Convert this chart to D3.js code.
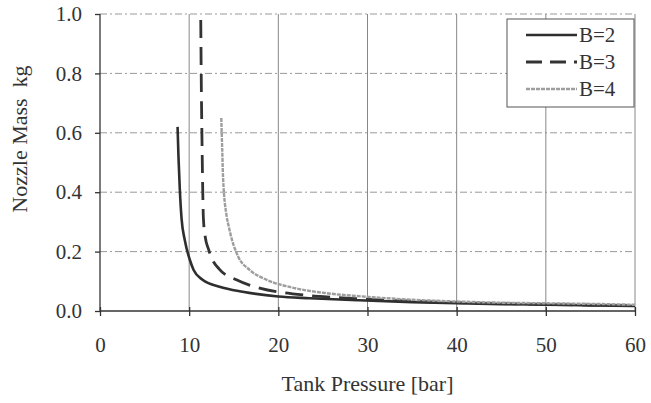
<!DOCTYPE html>
<html lang="en">
<head>
    <meta charset="UTF-8">
    <title>Nozzle Mass vs Tank Pressure</title>
    <script src="https://cdn.jsdelivr.net/npm/d3@7"></script>
    <style>
        body { margin: 0; background: #fff; }
        .axis path, .axis line { stroke: #333; stroke-width: 1.3px; }
    </style>
</head>
<body>
    <script>
        // values: [tank pressure (bar), nozzle mass (kg)]
        var seriesB2 = [[8.7,0.62],[8.8,0.52],[8.95,0.41],[9.15,0.31],[9.5,0.24],[10.1,0.17],[10.5,0.138],
            [11.5,0.105],[13.4,0.082],[16,0.065],[20,0.049],[23.5,0.043],[29,0.036],[35,0.030],
            [40,0.026],[45,0.023],[50,0.021],[55,0.019],[60,0.017]];
        var seriesB3 = [[11.3,0.98],[11.35,0.8],[11.45,0.55],[11.6,0.31],[11.8,0.25],[12.15,0.21],[12.5,0.18],
            [13.4,0.14],[15.3,0.105],[17.9,0.077],[21.6,0.058],[24.7,0.049],[29,0.041],[35,0.033],
            [40,0.028],[45,0.025],[50,0.022],[55,0.020],[60,0.018]];
        var seriesB4 = [[13.6,0.65],[13.7,0.55],[13.8,0.45],[14.2,0.32],[14.4,0.29],[14.8,0.24],[15.5,0.183],
            [16.8,0.138],[18.7,0.105],[21.7,0.078],[25.4,0.06],[29,0.05],[35,0.038],[40,0.032],
            [45,0.028],[50,0.026],[55,0.024],[60,0.021]];
        var seriesNames = ["B=2", "B=3", "B=4"];
        var xTicks = [0, 10, 20, 30, 40, 50, 60];
        var yTicks = [0, 0.2, 0.4, 0.6, 0.8, 1.0];

        var FONT = "'Liberation Serif', 'Times New Roman', serif";
        var W = 651, H = 403;
        var m = {left: 100, right: 16, top: 14, bottom: 92};

        var svg = d3.select("body").append("svg")
            .attr("width", W)
            .attr("height", H)
            .style("font-family", FONT);

        var x = d3.scaleLinear().domain([0, 60]).range([m.left, W - m.right]);
        var y = d3.scaleLinear().domain([0, 1]).range([H - m.bottom, m.top]);

        // grid
        svg.append("g").selectAll("line")
            .data(yTicks.slice(1))
            .enter().append("line")
            .attr("x1", x(0)).attr("x2", x(60))
            .attr("y1", d => y(d)).attr("y2", d => y(d))
            .attr("stroke", "#999")
            .attr("stroke-width", 1)
            .attr("stroke-dasharray", "7,3,2,3");
        svg.append("g").selectAll("line")
            .data(xTicks.slice(1))
            .enter().append("line")
            .attr("x1", d => x(d)).attr("x2", d => x(d))
            .attr("y1", y(0)).attr("y2", y(1))
            .attr("stroke", "#888")
            .attr("stroke-width", 1);

        // axes
        svg.append("g")
            .attr("class", "axis")
            .attr("transform", "translate(0," + y(0) + ")")
            .call(d3.axisBottom(x).tickValues(xTicks).tickSize(5).tickPadding(21).tickFormat(d3.format("d")))
            .call(g => g.selectAll(".tick line").attr("y1", -4))
            .call(g => g.select(".domain").attr("d", "M" + x(0) + ",0H" + x(60)));

        svg.append("g")
            .attr("class", "axis")
            .attr("transform", "translate(" + x(0) + ",0)")
            .call(d3.axisLeft(y).tickValues(yTicks).tickSize(5).tickPadding(13).tickFormat(d3.format(".1f")))
            .call(g => g.select(".domain").attr("d", "M0," + y(0) + "V" + y(1)));

        svg.selectAll(".axis")
            .attr("font-family", FONT)
            .attr("font-size", 21)
            .selectAll("text")
            .attr("fill", "#333");

        // titles
        svg.append("text")
            .attr("x", (x(0) + x(60)) / 2)
            .attr("y", 391)
            .attr("text-anchor", "middle")
            .attr("font-size", "22px")
            .attr("fill", "#333")
            .text("Tank Pressure [bar]");

        svg.append("text")
            .attr("transform", "translate(27,139) rotate(-90)")
            .attr("text-anchor", "middle")
            .attr("font-size", "22px")
            .attr("fill", "#333")
            .text("Nozzle Mass\u00a0\u00a0kg");

        // curves
        var line = d3.line()
            .x(d => x(d[0]))
            .y(d => y(d[1]))
            .curve(d3.curveMonotoneX);

        var styles = [
            {color: "#2e2e2e", width: 2.6, dash: null},
            {color: "#333", width: 2.8, dash: "18,9"},
            {color: "#9e9e9e", width: 2.4, dash: "4,1"}
        ];
        var allSeries = [seriesB2, seriesB3, seriesB4];

        allSeries.forEach(function(s, i) {
            svg.append("path")
                .datum(s)
                .attr("fill", "none")
                .attr("stroke", styles[i].color)
                .attr("stroke-width", styles[i].width)
                .attr("stroke-dasharray", styles[i].dash)
                .attr("d", line);
        });

        // legend
        var lg = svg.append("g").attr("transform", "translate(507,19)");
        lg.append("rect")
            .attr("width", 127).attr("height", 88)
            .attr("fill", "#fff")
            .attr("stroke", "#555")
            .attr("stroke-width", 1);
        seriesNames.forEach(function(name, i) {
            var ly = 16 + i * 27;
            lg.append("line")
                .attr("x1", 19).attr("x2", 70)
                .attr("y1", ly).attr("y2", ly)
                .attr("stroke", styles[i].color)
                .attr("stroke-width", styles[i].width)
                .attr("stroke-dasharray", i == 1 ? "16,8" : styles[i].dash);
            lg.append("text")
                .attr("x", 72).attr("y", ly)
                .attr("dy", "0.35em")
                .attr("font-size", "21px")
                .attr("fill", "#333")
                .text(name);
        });
    </script>
</body>
</html>
